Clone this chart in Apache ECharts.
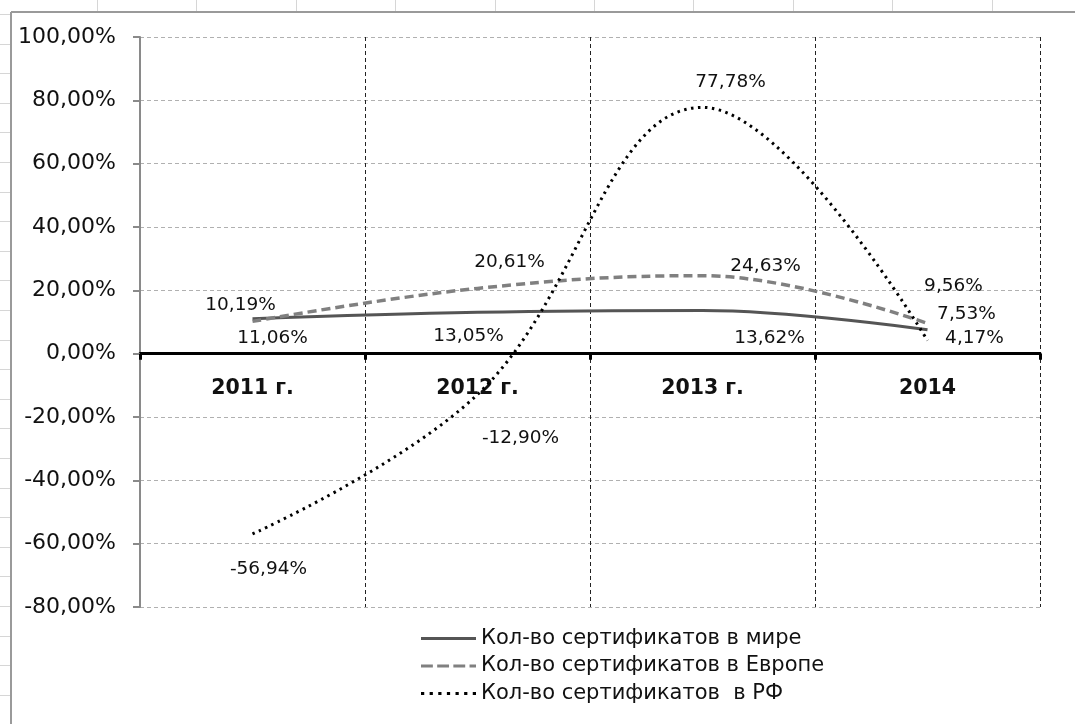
<!DOCTYPE html>
<html>
<head>
	<meta charset="utf-8">
	<title>Сертификаты</title>
	<script src="https://cdn.jsdelivr.net/npm/echarts@6/dist/echarts.min.js"></script>
	<style>
		html, body { margin: 0; padding: 0; background: #fff; }
		#main { width: 1075px; height: 724px; }
	</style>
</head>
<body>
<div id="main"></div>
<script>
	// данные
	var years = ['2011 г.', '2012 г.', '2013 г.', '2014'];
	var worldValues = [11.06, 13.05, 13.62, 7.53];
	var europeValues = [10.19, 20.61, 24.63, 9.56];
	var rfValues = [-56.94, -12.90, 77.78, 4.17];
	var yTicks = [-80, -60, -40, -20, 0, 20, 40, 60, 80, 100];
	var seriesNames = [
		'Кол-во сертификатов в мире',
		'Кол-во сертификатов в Европе',
		'Кол-во сертификатов  в РФ'
	];

	// смещения подписей (как в Excel)
	var worldOffsets = [[20, 20], [-9, 24], [67, 28], [39, -16]];
	var europeOffsets = [[-12, -16], [32, -26], [63, -9], [26, -37]];
	var rfOffsets = [[16, 35], [43, 44], [28, -25], [47, -2]];

	var FONT = 'DejaVu Sans';
	var GRID = { left: 140, right: 35, top: 37, bottom: 117 };
	var plotH = 724 - GRID.top - GRID.bottom;
	var yMin = yTicks[0], yMax = yTicks[yTicks.length - 1];
	// ось категорий проходит через ноль
	var zeroShift = -plotH * (0 - yMin) / (yMax - yMin);

	function fmt(v) {
		return v.toFixed(2).replace('.', ',') + '%';
	}

	function withLabels(values, offsets) {
		return values.map(function (v, i) {
			return { value: v, label: { offset: offsets[i] } };
		});
	}

	// фон листа Excel
	var sheet = [];
	for (var gx = 97; gx < 1075; gx += 99.4) {
		sheet.push({ type: 'line', silent: true, shape: { x1: Math.round(gx) + 0.5, y1: 0, x2: Math.round(gx) + 0.5, y2: 11 },
			style: { stroke: '#d6d6d6', lineWidth: 1 } });
	}
	for (var gy = 14; gy < 724; gy += 29.6) {
		sheet.push({ type: 'line', silent: true, shape: { x1: 0, y1: Math.round(gy) + 0.5, x2: 10, y2: Math.round(gy) + 0.5 },
			style: { stroke: '#d6d6d6', lineWidth: 1 } });
	}
	sheet.push({ type: 'line', silent: true, shape: { x1: 11, y1: 12, x2: 1075, y2: 12 }, style: { stroke: '#9a9a9a', lineWidth: 2 } });
	sheet.push({ type: 'line', silent: true, shape: { x1: 11, y1: 12, x2: 11, y2: 724 }, style: { stroke: '#9a9a9a', lineWidth: 2 } });

	var labelStyle = {
		show: true,
		position: 'inside',
		color: '#111',
		fontFamily: FONT,
		fontSize: 18.5,
		formatter: function (p) { return fmt(p.value); }
	};

	var chart = echarts.init(document.getElementById('main'), null, { renderer: 'canvas' });
	chart.setOption({
		animation: false,
		backgroundColor: '#fff',
		graphic: sheet,
		grid: { left: GRID.left, right: GRID.right, top: GRID.top, bottom: GRID.bottom, containLabel: false },
		legend: {
			orient: 'vertical',
			left: 416,
			top: 623,
			itemWidth: 55,
			itemHeight: 3,
			itemGap: 6.5,
			symbolKeepAspect: false,
			textStyle: { fontFamily: FONT, fontSize: 21, color: '#111' },
			data: [
				{ name: seriesNames[0], icon: 'path://M0,0H55V3H0Z' },
				{ name: seriesNames[1], icon: 'path://M0,0H11V3H0Z M15,0H26V3H15Z M30,0H41V3H30Z M45,0H51V3H45Z' },
				{ name: seriesNames[2], icon: 'path://M0,0H3V3H0Z M8,0H11V3H8Z M16,0H19V3H16Z M24,0H27V3H24Z M32,0H35V3H32Z M40,0H43V3H40Z M48,0H51V3H48Z' }
			]
		},
		xAxis: {
			type: 'category',
			data: years,
			boundaryGap: true,
			offset: zeroShift,
			axisLine: { onZero: false, lineStyle: { color: '#000', width: 3 } },
			axisTick: { show: true, length: 6, lineStyle: { color: '#000', width: 3 } },
			axisLabel: { margin: 25, fontFamily: FONT, fontSize: 20.5, fontWeight: 'bold', color: '#111' },
			splitLine: { show: true, lineStyle: { color: '#222', width: 1, type: [4, 3] } }
		},
		yAxis: {
			type: 'value',
			min: yMin,
			max: yMax,
			interval: 20,
			axisLine: { show: true, lineStyle: { color: '#8a8a8a', width: 2 } },
			axisTick: { show: true, inside: false, length: 7, lineStyle: { color: '#8a8a8a', width: 2 } },
			axisLabel: {
				margin: 24,
				fontFamily: FONT,
				fontSize: 22,
				color: '#111',
				formatter: function (v) { return fmt(v); }
			},
			splitLine: { show: true, lineStyle: { color: '#b0b0b0', width: 1, type: [4, 3] } }
		},
		series: [
			{
				name: seriesNames[0],
				type: 'line',
				smooth: 0.4,
				symbol: 'circle',
				symbolSize: 0,
				data: withLabels(worldValues, worldOffsets),
				itemStyle: { color: '#555555' },
				lineStyle: { color: '#555555', width: 3 },
				label: labelStyle,
				z: 3
			},
			{
				name: seriesNames[1],
				type: 'line',
				smooth: 0.4,
				symbol: 'circle',
				symbolSize: 0,
				data: withLabels(europeValues, europeOffsets),
				itemStyle: { color: '#808080' },
				lineStyle: { color: '#808080', width: 3.5, type: [9, 5] },
				label: labelStyle,
				z: 3
			},
			{
				name: seriesNames[2],
				type: 'line',
				smooth: 0.4,
				symbol: 'circle',
				symbolSize: 0,
				data: withLabels(rfValues, rfOffsets),
				itemStyle: { color: '#000000' },
				lineStyle: { color: '#000000', width: 3, type: [2.5, 4.5] },
				label: labelStyle,
				z: 4
			}
		]
	});
	window.onresize = chart.resize;
</script>
</body>
</html>
